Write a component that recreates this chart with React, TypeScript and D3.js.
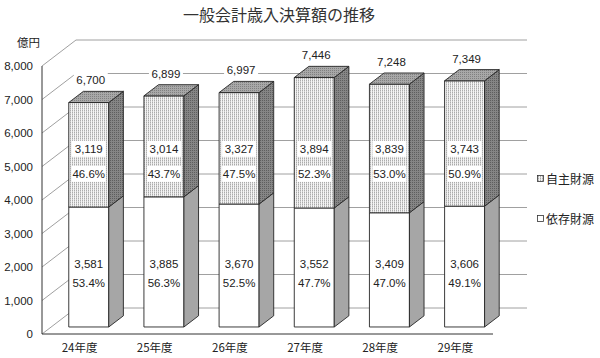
import React from 'react';
import * as d3 from 'd3';

const categories = ['24年度', '25年度', '26年度', '27年度', '28年度', '29年度'];
const ownRevenue = [3119, 3014, 3327, 3894, 3839, 3743]; // 自主財源
const depRevenue = [3581, 3885, 3670, 3552, 3409, 3606]; // 依存財源
const totals = [6700, 6899, 6997, 7446, 7248, 7349];
const ownPct = ['46.6%', '43.7%', '47.5%', '52.3%', '53.0%', '50.9%'];
const depPct = ['53.4%', '56.3%', '52.5%', '47.7%', '47.0%', '49.1%'];
const yTicks = [0, 1000, 2000, 3000, 4000, 5000, 6000, 7000, 8000];
const legendLabels = ['自主財源', '依存財源'];

const W = 600, H = 358;
const DX = 34, DY = -26;
const Z0 = 0.27, Z1 = 0.7;
const FONT = '"Liberation Sans", Arial, "Noto Sans CJK JP", sans-serif';
const JFONT = '"Noto Sans CJK JP", "Liberation Sans", sans-serif';

export default function App() {
  const y = d3.scaleLinear().domain([0, 8000]).range([334, 66]);
  const x = d3.scaleBand<string>().domain(categories).range([42, 493]).paddingInner(0.468).paddingOuter(0.234);
  const bw = x.bandwidth();
  const P = (xx: number, v: number, z: number): [number, number] => [xx + z * DX, y(v) + z * DY];
  const pts = (a: [number, number][]) => a.map(p => p.join(',')).join(' ');
  const fmt = d3.format(',');

  const meanDepMid = d3.mean(depRevenue.map(v => v / 2)) as number;
  const meanOwnMid = d3.mean(depRevenue.map((v, i) => v + ownRevenue[i] / 2)) as number;
  const depLabelY = y(meanDepMid) + Z0 * DY + 7.5;
  const ownLabelY = y(meanOwnMid) + Z0 * DY + 14;

  const x0 = 42, x1 = 493;

  return (
    <svg width={W} height={H} style={{ position: 'absolute', left: 0, top: 0, background: '#fff' }}>
      <defs>
        <pattern id="pFront" width="2" height="2" patternUnits="userSpaceOnUse">
          <rect width="2" height="2" fill="#f4f4f4" />
          <rect x="0" y="0" width="1" height="1" fill="#ababab" />
          <rect x="0" y="1" width="1" height="1" fill="#cfcfcf" />
        </pattern>
        <pattern id="pSide" width="2" height="2" patternUnits="userSpaceOnUse">
          <rect width="2" height="2" fill="#858585" />
          <rect x="0" y="0" width="1" height="1" fill="#5e5e5e" />
        </pattern>
        <pattern id="pTop" width="2" height="2" patternUnits="userSpaceOnUse">
          <rect width="2" height="2" fill="#a8a8a8" />
          <rect x="0" y="0" width="1" height="1" fill="#808080" />
        </pattern>
      </defs>

      <text x={279} y={21} textAnchor="middle" fontFamily={JFONT} fontSize={16} fill="#333">一般会計歳入決算額の推移</text>
      <text x={17} y={47} fontFamily={JFONT} fontSize={11.5} fill="#222">億円</text>

      {/* gridlines: left wall diagonals and back wall */}
      {yTicks.map(t => {
        const a = P(x0, t, 0), b = P(x0, t, 1), c = P(x1, t, 1);
        return (
          <g key={t}>
            <line x1={a[0]} y1={a[1]} x2={b[0]} y2={b[1]} stroke="#a0a0a0" strokeWidth={1} />
            <line x1={b[0]} y1={b[1]} x2={c[0]} y2={c[1]} stroke="#a0a0a0" strokeWidth={1} />
          </g>
        );
      })}
      {/* axes */}
      <line x1={x0} y1={y(0)} x2={x0} y2={y(8000)} stroke="#333" strokeWidth={1} />
      <line x1={x0} y1={y(0)} x2={x1} y2={y(0)} stroke="#333" strokeWidth={1} />

      {yTicks.map(t => (
        <text key={t} x={33} y={y(t) + 4} textAnchor="end" fontFamily={FONT} fontSize={11.5} fill="#222">{fmt(t)}</text>
      ))}
      {categories.map(c => (
        <text key={c} x={(x(c) as number) + bw / 2} y={352} textAnchor="middle" fontFamily={JFONT} fontSize={11.5} fill="#222">{c}</text>
      ))}

      {/* bars */}
      {categories.map((c, i) => {
        const bx = x(c) as number;
        const fx0 = bx, fx1 = bx + bw;
        const segs = [
          { v0: 0, v1: depRevenue[i], front: '#ffffff', side: '#a6a6a6' },
          { v0: depRevenue[i], v1: depRevenue[i] + ownRevenue[i], front: 'url(#pFront)', side: 'url(#pSide)' },
        ];
        const top = totals[i];
        return (
          <g key={c} stroke="#262626" strokeWidth={0.9} strokeLinejoin="round">
            {segs.map((s, k) => (
              <g key={k}>
                <polygon points={pts([P(fx0, s.v0, Z0), P(fx1, s.v0, Z0), P(fx1, s.v1, Z0), P(fx0, s.v1, Z0)])} fill={s.front} />
                <polygon points={pts([P(fx1, s.v0, Z0), P(fx1, s.v0, Z1), P(fx1, s.v1, Z1), P(fx1, s.v1, Z0)])} fill={s.side} />
              </g>
            ))}
            <polygon points={pts([P(fx0, top, Z0), P(fx1, top, Z0), P(fx1, top, Z1), P(fx0, top, Z1)])} fill="url(#pTop)" />
          </g>
        );
      })}

      {/* labels */}
      {categories.map((c, i) => {
        const cx = (x(c) as number) + bw / 2 + Z0 * DX;
        const topY = P(0, totals[i], Z1)[1] - 11;
        const boxes = [
          { t: fmt(totals[i]), cx: cx + 2, cy: topY, box: true },
          { t: fmt(ownRevenue[i]), cx, cy: ownLabelY - 12.5, box: true },
          { t: ownPct[i], cx, cy: ownLabelY + 12.5, box: true },
          { t: fmt(depRevenue[i]), cx, cy: depLabelY - 9.5, box: false },
          { t: depPct[i], cx, cy: depLabelY + 9.5, box: false },
        ];
        return (
          <g key={c}>
            {boxes.map((b, k) => (
              <g key={k}>
                {b.box && <rect x={b.cx - 17} y={b.cy - 8} width={34} height={16} fill="#fff" />}
                <text x={b.cx} y={b.cy + 4} textAnchor="middle" fontFamily={FONT} fontSize={11.5} fill="#222">{b.t}</text>
              </g>
            ))}
          </g>
        );
      })}

      {/* legend */}
      {legendLabels.map((l, k) => {
        const ly = 179 + k * 40;
        return (
          <g key={l}>
            <rect x={537.5} y={ly - 3.5} width={6} height={6} fill={k === 0 ? 'url(#pFront)' : '#fff'} stroke="#333" strokeWidth={0.8} />
            <text x={546} y={ly + 4.5} fontFamily={JFONT} fontSize={12} fill="#222">{l}</text>
          </g>
        );
      })}
    </svg>
  );
}
